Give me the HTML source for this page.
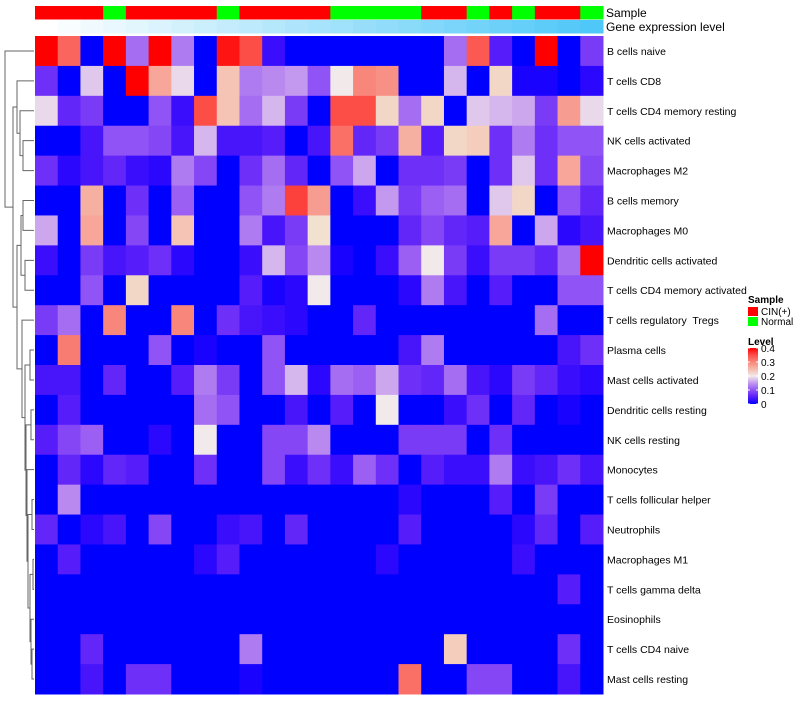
<!DOCTYPE html>
<html><head><meta charset="utf-8"><style>
body{margin:0;background:#fff;font-family:"Liberation Sans",sans-serif}
svg text{font-family:"Liberation Sans",sans-serif;white-space:pre}
</style></head><body>
<svg id="c" width="800" height="700"></svg>
<script>
const rows=["B cells naive","T cells CD8","T cells CD4 memory resting","NK cells activated","Macrophages M2","B cells memory","Macrophages M0","Dendritic cells activated","T cells CD4 memory activated","T cells regulatory  Tregs","Plasma cells","Mast cells activated","Dendritic cells resting","NK cells resting","Monocytes","T cells follicular helper","Neutrophils","Macrophages M1","T cells gamma delta","Eosinophils","T cells CD4 naive","Mast cells resting"];
const samples=["C","C","C","N","C","C","C","C","N","C","C","C","C","N","N","N","N","C","C","N","C","N","C","C","N"];
const values=[
[.4,.33,0,.4,.12,.4,.13,0,.39,.35,.03,0,0,0,0,0,0,0,.12,.34,.05,0,.4,0,.08],
[.07,0,.18,0,.4,.27,.19,0,.24,.13,.14,.15,.1,.2,.3,.29,0,0,.17,0,.22,.01,.01,0,.02],
[.19,.06,.08,0,0,.1,.03,.35,.24,.12,.17,.08,0,.35,.35,.22,.12,.22,0,.18,.17,.16,.08,.28,.19],
[0,0,.04,.1,.1,.09,.04,.17,.04,.04,.05,0,.04,.32,.06,.08,.26,.05,.22,.23,.07,.13,.07,.1,.1],
[.07,.02,.04,.06,.03,.02,.13,.09,0,.07,.12,.06,0,.1,.16,0,.07,.07,.08,0,.07,.18,.07,.27,.09],
[0,0,.26,0,.07,0,.11,0,0,.1,.13,.36,.28,0,.03,.15,.08,.11,.12,0,.18,.22,0,.1,.06],
[.16,0,.27,0,.09,0,.24,0,0,.13,.04,.08,.21,0,0,0,.06,.09,.06,.05,.27,0,.16,.02,.04],
[.03,0,.08,.04,.05,.07,.02,0,0,.03,.17,.09,.14,.01,0,.03,.11,.2,.08,.03,.08,.08,.06,.12,.4],
[0,0,.1,0,.22,0,0,0,0,.05,.01,.02,.2,0,0,0,.02,.13,.04,0,.05,0,0,.1,.1],
[.08,.12,0,.3,0,0,.3,0,.07,.04,.03,.02,0,0,.06,0,0,0,0,0,0,0,.12,0,0],
[0,.31,0,0,0,.1,0,.01,0,0,.1,0,0,0,0,0,.04,.13,0,0,0,0,0,.04,.07],
[.04,.04,0,.06,0,0,.05,.13,.08,0,.1,.17,.02,.12,.11,.16,.07,.06,.12,.04,.02,.08,.06,.03,.02],
[0,.05,0,0,0,0,0,.12,.1,0,0,.04,0,.05,0,.2,0,0,.03,.07,0,.06,0,.01,0],
[.05,.09,.11,0,0,.02,0,.2,0,0,.09,.09,.14,0,0,0,.08,.08,.08,0,.07,0,0,0,0],
[0,.06,.02,.06,.05,0,0,.07,0,0,.09,.03,.07,.03,.11,.07,0,.05,.03,.03,.13,.03,.04,.07,.04],
[0,.14,0,0,0,0,0,0,0,0,0,0,0,0,0,0,.02,0,0,0,.05,0,.08,0,0],
[.06,0,.02,.04,0,.09,0,0,.03,.04,0,.06,0,0,0,0,.05,0,0,0,0,.02,.06,0,.05],
[0,.05,0,0,0,0,0,.02,.05,0,0,0,0,0,0,.02,0,0,0,0,0,.03,0,0,0],
[0,0,0,0,0,0,0,0,0,0,0,0,0,0,0,0,0,0,0,0,0,0,0,.05,0],
[0,0,0,0,0,0,0,0,0,0,0,0,0,0,0,0,0,0,0,0,0,0,0,0,0],
[0,0,.06,0,0,0,0,0,0,.13,0,0,0,0,0,0,0,0,.23,0,0,0,0,.07,0],
[0,0,.04,0,.07,.07,0,0,0,.01,0,0,0,0,0,0,.32,0,0,.09,.09,0,0,.04,0]];
const legendTicks=[0,0.1,0.2,0.3,0.4];
const NS="http://www.w3.org/2000/svg";
const svg=document.getElementById('c');
function mk(tag,a,p){const e=document.createElementNS(NS,tag);for(const k in a)e.setAttribute(k,a[k]);(p||svg).appendChild(e);return e;}
const X0=35,X1=603,Y0=36,Y1=694;
const cw=(X1-X0)/samples.length, rh=(Y1-Y0)/rows.length;
const xs=i=>X0+i*cw, ys=i=>Y0+i*rh;
function col(v){const q=Math.max(0,Math.min(0.4,v));
 if(q<=0.2){const s=q/0.2;return `rgb(${Math.round(242*Math.pow(s,0.75))},${Math.round(234*Math.pow(s,1.5))},${Math.round(255-21*s)})`;}
 const s=(q-0.2)/0.2;const g=Math.round(234*Math.pow(1-s,0.8));return `rgb(${Math.round(242+13*s)},${g},${Math.round(g*0.92)})`;}
samples.forEach((s,i)=>{
 const r=mk('rect',{x:xs(i),y:6,width:cw+0.5,height:13.5,fill:s==="C"?"#ff0000":"#00ff00"});
 
 
 const f=i/(samples.length-1);
 const g=mk('rect',{x:xs(i),y:20,width:cw+0.5,height:13.5,fill:`rgb(${Math.round(255-176*f)},${Math.round(255-56*f)},${Math.round(255-7*f)})`});
 
 
});
let tt=mk('text',{x:606,y:17,'font-size':12,fill:'#000'});tt.textContent="Sample";


tt=mk('text',{x:606,y:31,'font-size':12,fill:'#000'});tt.textContent="Gene expression level";


values.forEach((row,r)=>row.forEach((v,c)=>{
 const e=mk('rect',{x:xs(c),y:ys(r),width:cw+0.5,height:rh+0.5,fill:col(v)});
 
 
}));
rows.forEach((n,r)=>{const e=mk('text',{x:607,y:ys(r)+rh/2+4,'font-size':10.5,fill:'#000'});e.textContent=n;
 
 });
const J=[30,[33,17,18],[31,19,[32,20,21]]];
const I=[28,[32,15,16],J];
const H=[27,14,I];
const G=[26,[31,12,13],H];
const F=[25,[30,10,11],G];
const E=[22,9,F];
const D=[21,[23,5,6],[25,7,8]];
const C=[17,D,E];
const B=[17,1,[20,2,[23,3,4]]];
const A=[13,B,C];
const tree=[5,0,A];
const dg=mk('g',{stroke:'#666','stroke-width':1,fill:'none'});


function draw(n){if(typeof n==='number')return {x:34,y:ys(n)+rh/2};
 const h=n[0],a=draw(n[1]),b=draw(n[2]);
 mk('path',{d:`M${a.x},${a.y}H${h}V${b.y}H${b.x}`},dg);return {x:h,y:(a.y+b.y)/2};}
draw(tree);
tt=mk('text',{x:748,y:303,'font-size':10,'font-weight':'bold'});tt.textContent="Sample";


[["#ff0000","CIN(+)"],["#00ff00","Normal"]].forEach((d,i)=>{
 const r=mk('rect',{x:748,y:307+i*10,width:10,height:9,fill:d[0]});
 
 
 const tx=mk('text',{x:761,y:315+i*10,'font-size':10});tx.textContent=d[1];
 
 
});
tt=mk('text',{x:748,y:345,'font-size':10,'font-weight':'bold'});tt.textContent="Level";


const defs=mk('defs',{});const lg=mk('linearGradient',{id:'lv',x1:0,y1:1,x2:0,y2:0},defs);
for(let k=0;k<=8;k++)mk('stop',{offset:k/8,'stop-color':col(0.4*k/8)},lg);
const bar=mk('rect',{x:748,y:348,width:10,height:56,fill:'url(#lv)'});


legendTicks.forEach(v=>{const y=404-v/0.4*56;
 mk('line',{x1:748,x2:750,y1:y,y2:y,stroke:'#fff'});mk('line',{x1:756,x2:758,y1:y,y2:y,stroke:'#fff'});
 const tx=mk('text',{x:761,y:y+4,'font-size':10});tx.textContent=String(v);
 
 });
</script>
</body></html>
